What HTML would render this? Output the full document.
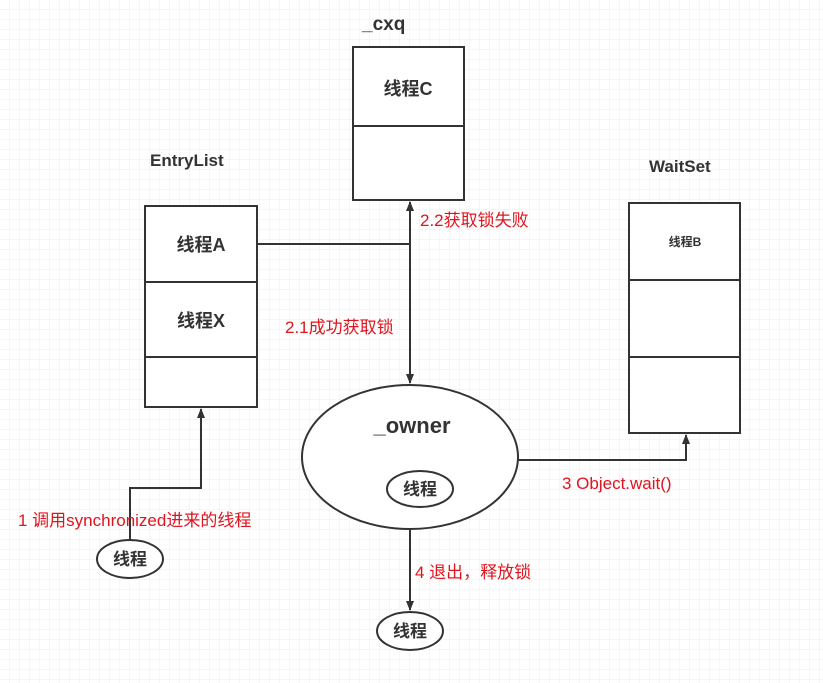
<!DOCTYPE html>
<html><head><meta charset="utf-8"><style>
body{margin:0;background:#fff}
svg{display:block}
text{font-family:"Liberation Sans","Noto Sans CJK SC",sans-serif}
.b{font-weight:bold;fill:#333}
.r{fill:#e0141e;font-size:17px}
</style></head><body>
<svg width="823" height="683" viewBox="0 0 823 683">
<defs>
<pattern id="g" width="10" height="10" patternUnits="userSpaceOnUse"><path d="M10 0V10H0" fill="none" stroke="#eee" stroke-width="1"/></pattern>
<marker id="a" markerWidth="10" markerHeight="10" refX="9" refY="5" orient="auto" markerUnits="userSpaceOnUse"><path d="M0 1L10 5L0 9z" fill="#333"/></marker>
</defs>
<rect width="823" height="683" fill="url(#g)"/>
<g stroke="#333" stroke-width="2" fill="#fff">
<rect x="353" y="47" width="111" height="153"/><line x1="353" y1="126" x2="464" y2="126"/>
<rect x="145" y="206" width="112" height="201"/><line x1="145" y1="282" x2="257" y2="282"/><line x1="145" y1="357" x2="257" y2="357"/>
<rect x="629" y="203" width="111" height="230"/><line x1="629" y1="280" x2="740" y2="280"/><line x1="629" y1="357" x2="740" y2="357"/>
<ellipse cx="410" cy="457" rx="108" ry="72"/>
<ellipse cx="420" cy="489" rx="33" ry="18"/>
<ellipse cx="130" cy="559" rx="33" ry="19"/>
<ellipse cx="410" cy="631" rx="33" ry="19"/>
<g fill="none">
<line x1="257" y1="244" x2="410" y2="244"/>
<line x1="410" y1="300" x2="410" y2="202" marker-end="url(#a)"/>
<line x1="410" y1="240" x2="410" y2="383" marker-end="url(#a)"/>
<polyline points="518,460 686,460 686,435" marker-end="url(#a)"/>
<polyline points="130,540 130,488 201,488 201,409" marker-end="url(#a)"/>
<line x1="410" y1="529" x2="410" y2="610" marker-end="url(#a)"/>
</g></g>
<text class="b" x="362" y="30" font-size="19">_cxq</text>
<text class="b" x="150" y="166" font-size="17">EntryList</text>
<text class="b" x="649" y="172" font-size="17">WaitSet</text>
<text class="b" x="408" y="95" font-size="18" text-anchor="middle">线程C</text>
<text class="b" x="201" y="251" font-size="18" text-anchor="middle">线程A</text>
<text class="b" x="201" y="327" font-size="18" text-anchor="middle">线程X</text>
<text class="b" x="685" y="246" font-size="12" text-anchor="middle">线程B</text>
<text class="b" x="412" y="433" font-size="22" text-anchor="middle">_owner</text>
<text class="b" x="420" y="495" font-size="17" text-anchor="middle">线程</text>
<text class="b" x="130" y="565" font-size="17" text-anchor="middle">线程</text>
<text class="b" x="410" y="637" font-size="17" text-anchor="middle">线程</text>
<text class="r" x="420" y="226">2.2获取锁失败</text>
<text class="r" x="285" y="333">2.1成功获取锁</text>
<text class="r" x="562" y="489">3 Object.wait()</text>
<text class="r" x="18" y="526">1 调用synchronized进来的线程</text>
<text class="r" x="415" y="578">4 退出，释放锁</text>
</svg>
</body></html>
